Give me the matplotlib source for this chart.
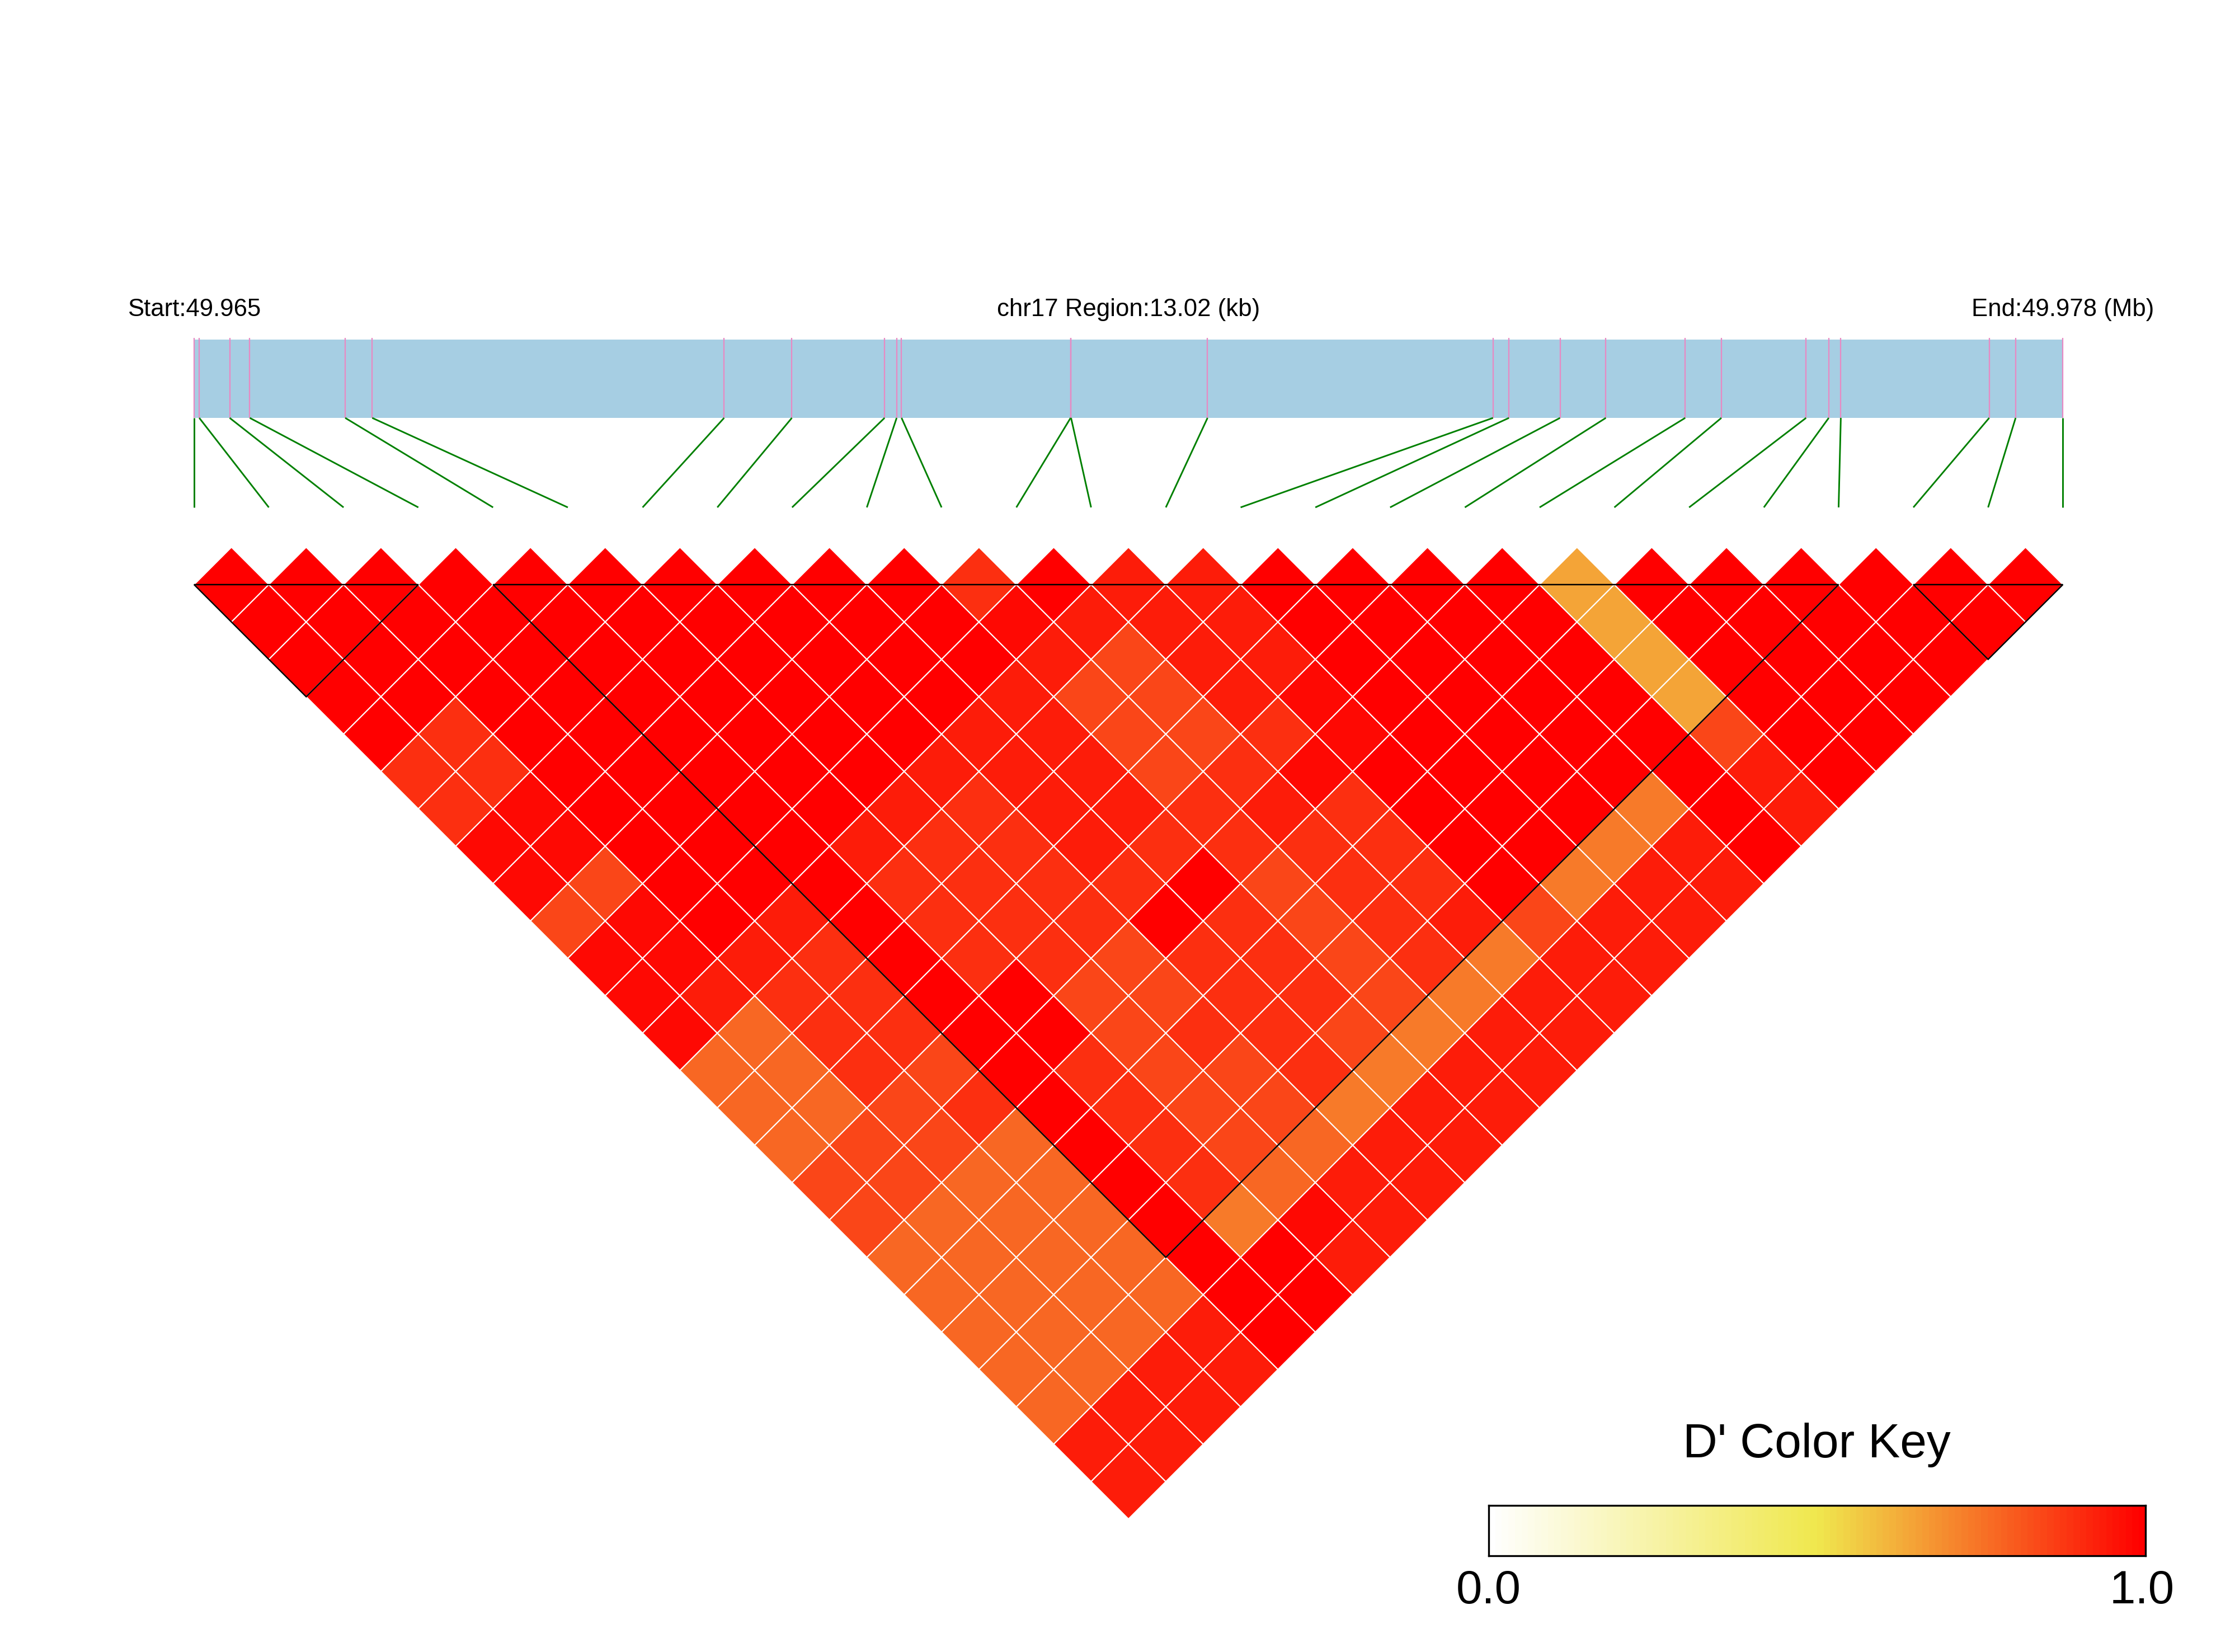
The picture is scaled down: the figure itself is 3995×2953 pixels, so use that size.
import numpy as np
import matplotlib
matplotlib.use("Agg")
import matplotlib.pyplot as plt
from matplotlib.colors import LinearSegmentedColormap
from matplotlib.collections import PolyCollection, LineCollection
from matplotlib.patches import Rectangle, Polygon

plt.rcParams['font.family'] = ['Liberation Sans', 'DejaVu Sans']

# ---------------- data ----------------
chrom = "chr17"
start_mb = 49.965
end_mb = 49.978
region_kb = 13.02

# SNP positions (kb from region start)
snp_pos_kb = [0.000, 0.036, 0.248, 0.388, 1.053, 1.241, 3.693, 4.165, 4.811,
              4.895, 4.929, 6.107, 6.110, 7.061, 9.050, 9.161, 9.517, 9.836,
              10.389, 10.641, 11.231, 11.389, 11.473, 12.507, 12.691, 13.020]

# D' value levels
R, A, B, C, E, F, G, L = 1.00, 0.97, 0.935, 0.89, 0.84, 0.77, 0.73, 0.64

# D'(i, j) for j = i+1 .. n-1
dprime_rows = [
    [R, R, R, R, R, C, C, A, A, E, A, A, A, F, F, F, E, E, F, F, F, F, F, B, B],
    [R, R, R, R, C, C, A, A, E, A, A, B, F, F, F, E, E, F, F, F, F, F, B, B],
    [R, R, R, R, R, R, R, R, R, R, B, C, C, C, E, E, F, F, F, F, F, B, B],
    [R, R, R, R, R, R, R, R, R, B, C, C, C, E, C, F, F, F, F, F, B, B],
    [R, R, R, R, R, R, R, R, R, R, R, R, R, R, R, R, R, R, R, R, R],
    [R, R, R, R, R, R, R, B, C, C, C, R, R, C, C, C, C, G, R, R],
    [R, R, R, R, R, R, B, C, C, C, C, E, E, E, E, E, F, A, B],
    [R, R, R, R, R, B, C, C, C, C, E, E, C, E, E, F, B, B],
    [R, R, R, R, B, B, B, B, C, R, C, C, C, C, G, B, B],
    [R, R, R, B, B, B, B, C, R, C, C, C, E, G, B, B],
    [C, A, B, E, E, E, C, C, E, E, E, E, G, B, B],
    [R, B, E, E, E, C, B, C, C, C, C, G, B, B],
    [B, B, B, B, C, A, C, C, C, B, G, B, B],
    [B, B, B, A, A, R, R, R, R, E, B, B],
    [R, R, R, R, R, R, R, R, G, B, B],
    [R, R, R, R, R, R, R, G, B, B],
    [R, R, R, R, R, R, G, B, B],
    [R, R, R, R, R, R, R, R],
    [L, L, L, L, E, B, B],
    [R, R, R, R, R, R],
    [R, R, R, R, R],
    [R, R, R, R],
    [R, R, R],
    [R, R],
    [R],
]

# LD blocks (first SNP index, last SNP index)
blocks = [(0, 3), (4, 22), (23, 25)]

key_ticks = ["0.0", "1.0"]

# ---------------- layout ----------------
n = len(snp_pos_kb)
W, H = 3995, 2953
DPI = 300
fig = plt.figure(figsize=(W / DPI, H / DPI), dpi=DPI)
ax = fig.add_axes([0, 0, 1, 1])
ax.set_xlim(0, W)
ax.set_ylim(H, 0)
ax.axis('off')

x0, x1 = 346.9, 3687.3
step = (x1 - x0) / (n - 1)
half = step / 2.0
tri_top = 1045.0
bar_top, bar_bot = 607.0, 747.0
link_bot = 907.0

cmap = LinearSegmentedColormap.from_list(
    'dprime', ['#FFFFFF', '#F0E84E', '#FF0000'], N=100)

# ---------------- heatmap ----------------
polys, vals = [], []
for i, row in enumerate(dprime_rows):
    for k, v in enumerate(row):
        j = i + 1 + k
        cx = x0 + half * (i + j)
        cy = tri_top + half * (j - i - 1)
        polys.append([(cx - half, cy), (cx, cy - half),
                      (cx + half, cy), (cx, cy + half)])
        vals.append(v)
pc = PolyCollection(polys, array=np.array(vals), cmap=cmap,
                    edgecolors='white', linewidths=0.5)
pc.set_clim(0, 1)
ax.add_collection(pc)

for a, b in blocks:
    xa = x0 + a * step
    xb = x0 + b * step
    ax.add_patch(Polygon([(xa, tri_top), (xb, tri_top),
                          ((xa + xb) / 2, tri_top + (xb - xa) / 2)],
                         closed=True, fill=False, edgecolor='black',
                         linewidth=0.6, zorder=5))

# ---------------- gene bar and SNP links ----------------
ax.add_patch(Rectangle((x0, bar_top), x1 - x0, bar_bot - bar_top,
                       facecolor='#A6CEE3', edgecolor='none'))
phys_x = [x0 + p / region_kb * (x1 - x0) for p in snp_pos_kb]
ax.vlines(phys_x, bar_top - 3, bar_bot, color='#E78AC3', linewidth=0.55)
links = [[(px, bar_bot), (x0 + k * step, link_bot)] for k, px in enumerate(phys_x)]
ax.add_collection(LineCollection(links, colors='#008000', linewidths=0.7))

fs_head = 10.5
ax.text(x0, 565, f"Start:{start_mb:.3f}", ha='center', va='baseline', fontsize=fs_head)
ax.text((x0 + x1) / 2, 565, f"{chrom} Region:{region_kb:.2f} (kb)",
        ha='center', va='baseline', fontsize=fs_head)
ax.text(x1, 565, f"End:{end_mb:.3f} (Mb)", ha='center', va='baseline', fontsize=fs_head)

# ---------------- colour key ----------------
cb_l, cb_r, cb_t, cb_b = 2661.0, 3834.6, 2690.7, 2781.0
cax = fig.add_axes([cb_l / W, 1 - cb_b / H, (cb_r - cb_l) / W, (cb_b - cb_t) / H])
cax.imshow(np.linspace(0, 1, 100)[None, :], cmap=cmap, aspect='auto',
           extent=[0, 1, 0, 1], vmin=0, vmax=1)
cax.set_xticks([])
cax.set_yticks([])
for s in cax.spines.values():
    s.set_linewidth(0.8)
    s.set_color('black')

ax.text((cb_l + cb_r) / 2, 2605, "D' Color Key", ha='center', va='baseline', fontsize=20.6)
ax.text(cb_l, 2866, key_ticks[0], ha='center', va='baseline', fontsize=20)
ax.text(cb_r - 6, 2866, key_ticks[1], ha='center', va='baseline', fontsize=20)

fig.savefig("out.png", dpi=DPI)
